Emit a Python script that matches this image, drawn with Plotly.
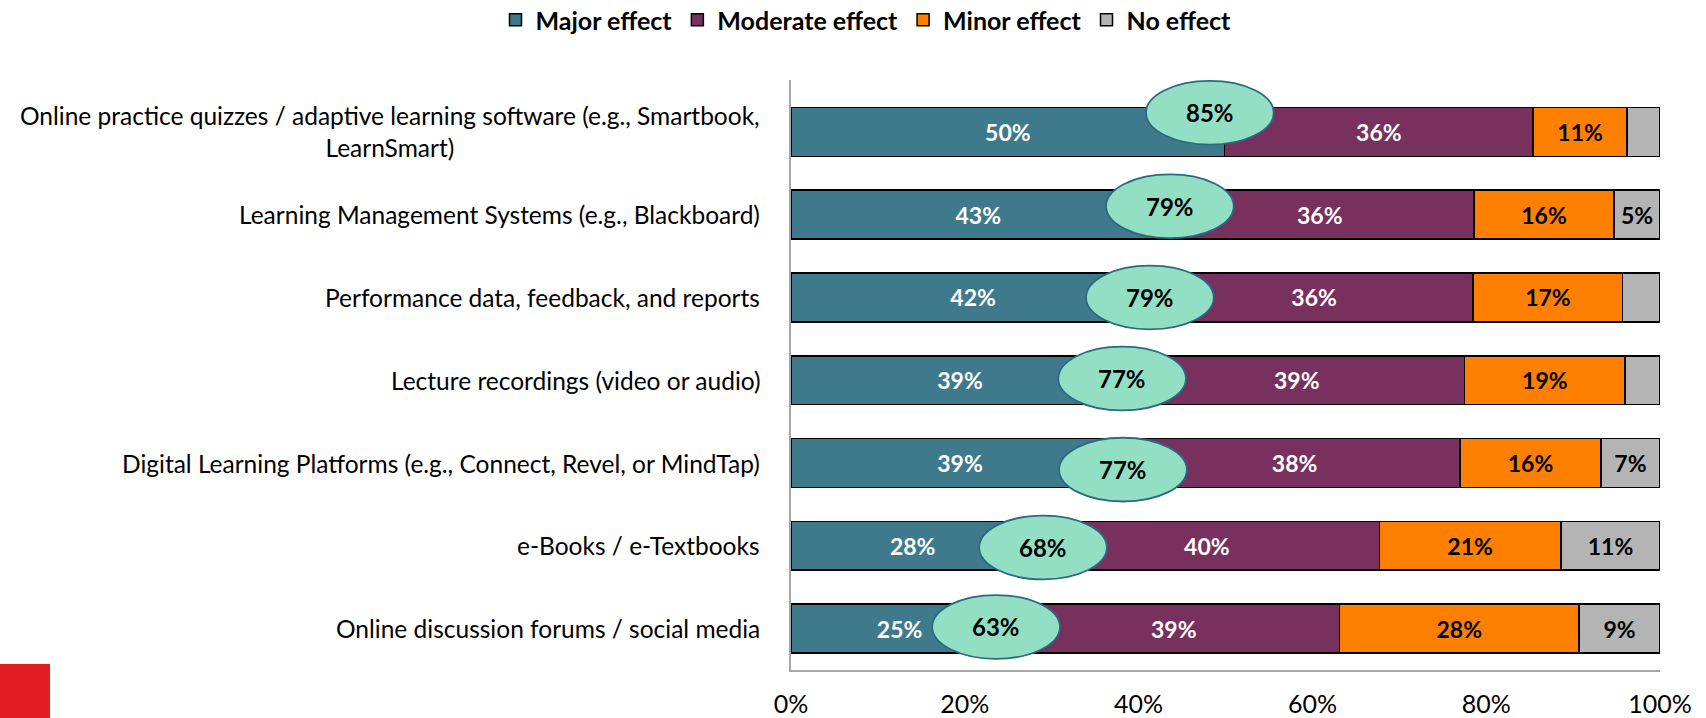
import plotly.graph_objects as go

categories = [
    "Online practice quizzes / adaptive learning software (e.g., Smartbook,<br>LearnSmart)",
    "Learning Management Systems (e.g., Blackboard)",
    "Performance data, feedback, and reports",
    "Lecture recordings (video or audio)",
    "Digital Learning Platforms (e.g., Connect, Revel, or MindTap)",
    "e-Books / e-Textbooks",
    "Online discussion forums / social media",
]
# segment widths (unrounded shares)
major = [49.9, 43.1, 41.9, 38.9, 38.9, 28.0, 25.0]
moderate = [35.5, 35.5, 36.6, 38.6, 38.1, 39.7, 38.1]
minor = [10.8, 16.1, 17.2, 18.5, 16.2, 20.9, 27.6]
no_effect = [3.8, 5.3, 4.3, 4.0, 6.8, 11.4, 9.3]

# printed labels
major_lbl = ["50%", "43%", "42%", "39%", "39%", "28%", "25%"]
moderate_lbl = ["36%", "36%", "36%", "39%", "38%", "40%", "39%"]
minor_lbl = ["11%", "16%", "17%", "19%", "16%", "21%", "28%"]
no_effect_lbl = ["", "5%", "", "", "7%", "11%", "9%"]
combined_lbl = ["85%", "79%", "79%", "77%", "77%", "68%", "63%"]

series = [
    ("Major effect", major, major_lbl, "#3E7A8B", "white"),
    ("Moderate effect", moderate, moderate_lbl, "#78305F", "white"),
    ("Minor effect", minor, minor_lbl, "#FF7F00", "black"),
    ("No effect", no_effect, no_effect_lbl, "#B4B4B4", "black"),
]

FONT = "Lato, 'Noto Sans', sans-serif"

# hand-placed nudges of the callout ellipses (as in the original slide)
ellipse_dx = [-1.7, 0.5, -0.6, -0.8, -0.7, 1.0, -1.4]
ellipse_dy = [-0.23, -0.10, 0.0, -0.02, 0.08, 0.02, -0.02]

fig = go.Figure()
for name, vals, lbls, color, tcolor in series:
    fig.add_trace(go.Bar(
        y=categories, x=vals, name=name, orientation="h",
        marker=dict(color=color, line=dict(color="black", width=1.5)),
        text=lbls,
        textposition="inside", insidetextanchor="middle",
        textfont=dict(color=tcolor, size=23, family=FONT, weight="bold"),
        constraintext="none",
        hoverinfo="skip",
    ))

# combined major+moderate ellipses, at the major/moderate boundary
for i, (m, tot) in enumerate(zip(major, combined_lbl)):
    cx, cy = m + ellipse_dx[i], i + ellipse_dy[i]
    fig.add_shape(type="circle", xref="x", yref="y",
                  x0=cx - 7.35, x1=cx + 7.35, y0=cy - 0.385, y1=cy + 0.385,
                  fillcolor="#93DFC3", line=dict(color="#2A6A82", width=1.8),
                  layer="above")
    fig.add_annotation(x=cx, y=cy, text=f"<b>{tot}</b>", showarrow=False,
                       font=dict(size=24, color="black", family=FONT))

# category labels as annotations so wrapped lines are centred
for cat in categories:
    fig.add_annotation(x=0, xref="paper", y=cat, yref="y", text=cat,
                       showarrow=False, xanchor="right", align="center",
                       xshift=-29, font=dict(size=24.5, color="black", family=FONT))

L, R, T, B = 791, 46, 80, 48
PW, PH = 1706 - L - R, 718 - T - B

# red corner block
fig.add_shape(type="rect", xref="paper", yref="paper",
              x0=-(L + 2) / PW, x1=(50 - L) / PW,
              y0=-(B + 2) / PH, y1=6 / PH,
              fillcolor="#E31B23", line=dict(width=0))

fig.update_layout(
    barmode="stack", bargap=0.41,
    width=1706, height=718,
    margin=dict(l=L, r=R, t=T, b=B),
    plot_bgcolor="white", paper_bgcolor="white",
    font=dict(family=FONT, size=20, color="black"),
    legend=dict(orientation="h", xref="container", yref="container",
                x=866 / 1706, xanchor="center",
                y=1 - 20 / 718, yanchor="middle",
                font=dict(size=25, family=FONT, weight="bold"),
                itemwidth=30, traceorder="normal"),
    showlegend=True,
)
fig.update_xaxes(range=[0, 100], tickvals=[0, 20, 40, 60, 80, 100],
                 ticktext=["0%", "20%", "40%", "60%", "80%", "100%"],
                 showgrid=False, zeroline=False, showline=True,
                 linecolor="#A6A6A6", linewidth=1.5, ticks="",
                 ticklabelstandoff=11, tickfont=dict(size=25),
                 automargin=False)
fig.update_yaxes(autorange="reversed", showticklabels=False, showgrid=False,
                 zeroline=False, showline=True, linecolor="#A6A6A6",
                 linewidth=1.5, ticks="", automargin=False)

fig.write_html("out.html", config={"displayModeBar": False},
               post_script="document.body.style.margin='0';")
